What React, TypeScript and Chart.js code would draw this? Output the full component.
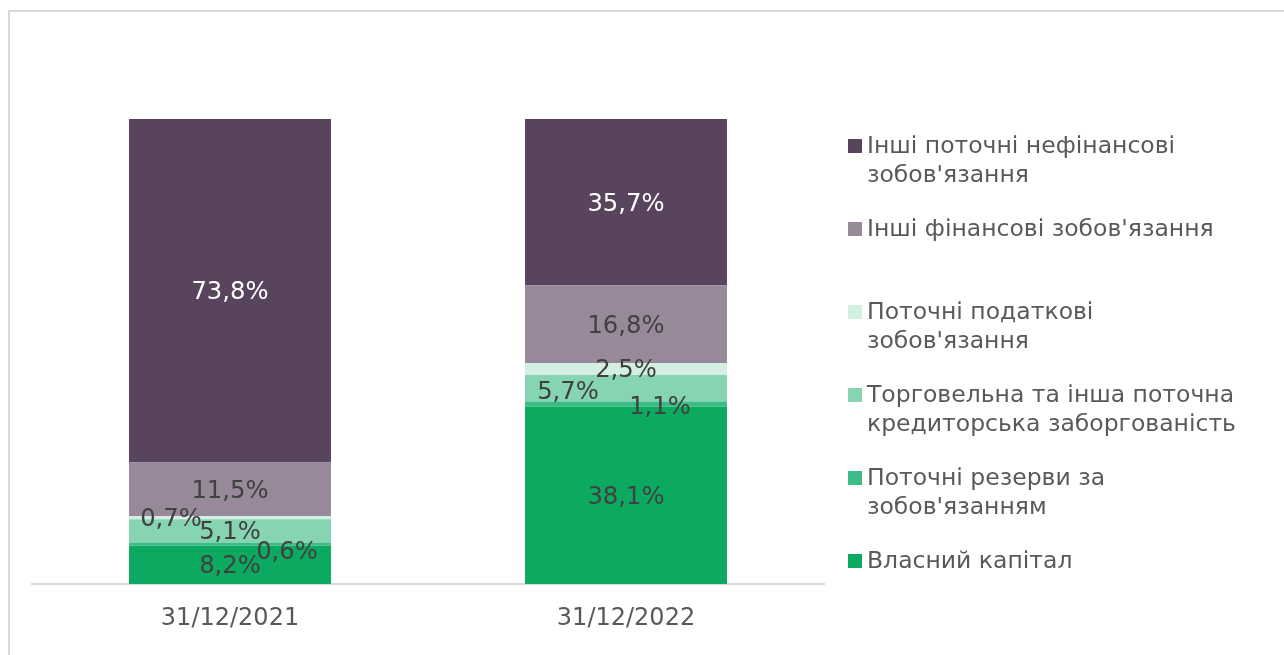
import React, { useEffect, useRef } from 'react';
import { Chart, registerables } from 'chart.js';

Chart.register(...registerables);

const categories = ['31/12/2021', '31/12/2022'];
const seriesNames = [
  'Власний капітал',
  "Поточні резерви за зобов'язанням",
  'Торговельна та інша поточна кредиторська заборгованість',
  "Поточні податкові зобов'язання",
  "Інші фінансові зобов'язання",
  "Інші поточні нефінансові зобов'язання",
];
const equity = [8.2, 38.1];
const reserves = [0.6, 1.1];
const tradePayables = [5.1, 5.7];
const taxLiabilities = [0.7, 2.5];
const otherFinancial = [11.5, 16.8];
const otherNonFinancial = [73.8, 35.7];
const seriesValues = [equity, reserves, tradePayables, taxLiabilities, otherFinancial, otherNonFinancial];

const seriesColors = ['#0CAA60', '#3DBB84', '#86D4B2', '#D2EFE1', '#98899A', '#59445E'];
const labelColors = ['#404040', '#404040', '#404040', '#404040', '#404040', '#FFFFFF'];
// manual label nudges [dx, dy] per series, per category (Excel-like placement)
const labelOffsets = [
  [[0, 2], [0, 2]],
  [[57, 8.5], [34, 4]],
  [[0, 1.5], [-58, 4]],
  [[-59, 1.7], [0, 2]],
  [[0, 2.4], [0, 2.5]],
  [[0, 2], [0, 2.5]],
];

const FONT = "'DejaVu Sans', Verdana, sans-serif";

const dataLabelPlugin = {
  id: 'dataLabels',
  afterDatasetsDraw(chart: any) {
    const ctx = chart.ctx;
    ctx.save();
    ctx.font = `24.3px ${FONT}`;
    ctx.textAlign = 'center';
    ctx.textBaseline = 'middle';
    chart.data.datasets.forEach((ds: any, di: number) => {
      const meta = chart.getDatasetMeta(di);
      meta.data.forEach((el: any, i: number) => {
        const v = ds.data[i];
        const cy = (el.y + el.base) / 2;
        const [dx, dy] = labelOffsets[di][i];
        ctx.fillStyle = labelColors[di];
        ctx.fillText(v.toFixed(1).replace('.', ',') + '%', el.x + dx, cy + dy);
      });
    });
    ctx.restore();
  },
};

function wrap(ctx: CanvasRenderingContext2D, text: string, maxWidth: number) {
  const words = text.split(' ');
  const lines: string[] = [];
  let cur = '';
  for (const w of words) {
    const test = cur ? cur + ' ' + w : w;
    if (ctx.measureText(test).width > maxWidth && cur) {
      lines.push(cur);
      cur = w;
    } else {
      cur = test;
    }
  }
  if (cur) lines.push(cur);
  return lines;
}

const legendPlugin = {
  id: 'sideLegend',
  afterDraw(chart: any) {
    const ctx = chart.ctx;
    ctx.save();
    ctx.font = `23.5px ${FONT}`;
    ctx.textBaseline = 'middle';
    ctx.textAlign = 'left';
    const n = chart.data.datasets.length;
    const x0 = 848;
    const top = 146;
    const pitch = 83;
    const lineH = 29;
    for (let k = 0; k < n; k++) {
      const di = n - 1 - k;
      const ds = chart.data.datasets[di];
      const cy = top + pitch * k;
      ctx.fillStyle = ds.backgroundColor;
      ctx.fillRect(x0, cy - 7, 14, 14);
      ctx.fillStyle = '#595959';
      const lines = wrap(ctx, ds.label, 380);
      lines.forEach((ln, j) => ctx.fillText(ln, x0 + 19, cy + 1 + j * lineH));
    }
    ctx.restore();
  },
};

export default function App() {
  const ref = useRef<HTMLCanvasElement>(null);
  useEffect(() => {
    if (!ref.current) return;
    const chart = new Chart(ref.current, {
      type: 'bar',
      data: {
        labels: categories,
        datasets: seriesNames.map((name, i) => ({
          label: name,
          data: seriesValues[i],
          backgroundColor: seriesColors[i],
          borderWidth: 0,
          categoryPercentage: 1,
          barPercentage: 0.51,
        })),
      },
      options: {
        animation: false,
        responsive: false,
        maintainAspectRatio: false,
        layout: { padding: { left: 32, right: 460, top: 118.5, bottom: 1.2 } },
        plugins: { legend: { display: false }, tooltip: { enabled: false } },
        scales: {
          x: {
            stacked: true,
            grid: { display: false, drawTicks: false },
            border: { display: true, color: '#D9D9D9', width: 2 },
            ticks: { color: '#595959', font: { family: FONT, size: 24 }, padding: 20.5 },
          },
          y: { stacked: true, display: false, min: 0, max: 100 },
        },
      },
      plugins: [dataLabelPlugin, legendPlugin],
    });
    return () => chart.destroy();
  }, []);
  return (
    <div style={{ position: 'fixed', left: 0, top: 0, width: 1284, height: 655, overflow: 'hidden', background: '#fff' }}>
      <div style={{ position: 'absolute', left: 8, top: 10, width: 1400, height: 800, borderLeft: '2px solid #D9D9D9', borderTop: '2px solid #D9D9D9' }} />
      <canvas ref={ref} width={1284} height={655} style={{ position: 'absolute', left: 0, top: 0, width: 1284, height: 655 }} />
    </div>
  );
}
